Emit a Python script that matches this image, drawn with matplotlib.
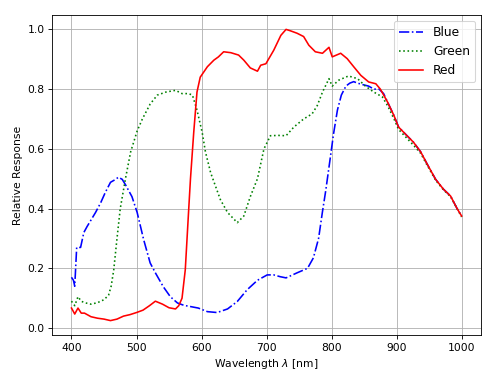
import numpy as np
import matplotlib
matplotlib.use('Agg')
import matplotlib.pyplot as plt

# Spectral response (wavelength in nm, relative response)
wl_blue = [400, 403, 405, 408, 414, 419, 424, 429, 437, 445, 452, 460, 468, 472, 478, 483,
           488, 493, 501, 511, 521, 529, 541, 552, 563, 573, 583, 595, 609, 624, 640, 655,
           670, 686, 701, 711, 721, 730, 747, 763, 772, 780, 786, 791, 798, 803, 809, 815,
           822, 828, 834, 840, 848, 857, 865, 873, 880, 886, 896, 903, 916, 926, 937, 947,
           960, 972, 983, 993, 1000]
blue = [0.17, 0.16, 0.14, 0.27, 0.27, 0.32, 0.34, 0.358, 0.387, 0.42, 0.454, 0.488, 0.498, 0.505,
        0.498, 0.48, 0.46, 0.44, 0.387, 0.296, 0.218, 0.185, 0.139, 0.105, 0.084, 0.076, 0.072,
        0.067, 0.055, 0.052, 0.064, 0.089, 0.128, 0.16, 0.178, 0.178, 0.172, 0.168, 0.185, 0.2,
        0.235, 0.30, 0.39, 0.46, 0.57, 0.65, 0.73, 0.78, 0.81, 0.82, 0.825, 0.82, 0.815, 0.81,
        0.80, 0.80, 0.785, 0.757, 0.711, 0.673, 0.644, 0.622, 0.59, 0.549, 0.498, 0.465, 0.442,
        0.40, 0.375]

wl_green = [400, 405, 410, 415, 420, 430, 440, 450, 457, 461, 465, 470, 475, 483, 491, 501,
            509, 521, 532, 545, 560, 570, 580, 586, 593, 601, 606, 614, 619, 629, 640, 655,
            665, 675, 686, 696, 706, 718, 730, 742, 757, 770, 778, 786, 796, 801, 811, 826,
            840, 852, 865, 878, 886, 896, 903, 916, 926, 937, 947, 960, 972, 983, 993, 1000]
green = [0.09, 0.075, 0.105, 0.09, 0.085, 0.08, 0.085, 0.095, 0.11, 0.14, 0.195, 0.30, 0.40,
         0.50, 0.59, 0.66, 0.70, 0.75, 0.78, 0.79, 0.796, 0.785, 0.785, 0.78, 0.73, 0.655, 0.59,
         0.52, 0.49, 0.43, 0.387, 0.353, 0.375, 0.44, 0.50, 0.60, 0.644, 0.645, 0.644, 0.673,
         0.70, 0.717, 0.745, 0.79, 0.835, 0.81, 0.83, 0.844, 0.835, 0.81, 0.79, 0.774, 0.745,
         0.70, 0.665, 0.635, 0.612, 0.585, 0.545, 0.495, 0.463, 0.44, 0.40, 0.372]

wl_red = [400, 405, 410, 415, 420, 430, 440, 450, 460, 470, 480, 490, 500, 510, 520, 529,
          540, 550, 560, 565, 570, 575, 580, 583, 588, 593, 598, 609, 619, 626, 634, 645,
          657, 665, 675, 686, 691, 699, 711, 722, 730, 737, 747, 757, 765, 775, 786, 796,
          801, 814, 824, 834, 845, 857, 868, 875, 886, 896, 903, 916, 926, 937, 947, 960,
          972, 983, 993, 1000]
red = [0.067, 0.047, 0.067, 0.05, 0.05, 0.038, 0.033, 0.03, 0.025, 0.03, 0.04, 0.045, 0.052,
       0.06, 0.075, 0.09, 0.08, 0.068, 0.064, 0.075, 0.10, 0.195, 0.387, 0.50, 0.655, 0.79,
       0.84, 0.875, 0.897, 0.908, 0.925, 0.922, 0.914, 0.897, 0.871, 0.86, 0.88, 0.885, 0.93,
       0.98, 1.0, 0.995, 0.987, 0.976, 0.947, 0.925, 0.92, 0.94, 0.908, 0.92, 0.902, 0.875,
       0.846, 0.824, 0.818, 0.80, 0.757, 0.711, 0.673, 0.644, 0.622, 0.59, 0.549, 0.498, 0.465,
       0.442, 0.40, 0.375]

fig = plt.figure(figsize=(495 / 77, 380 / 77), dpi=77)
ax = fig.add_axes([0.105, 0.118, 0.867, 0.843])

ax.plot(wl_blue, blue, 'b-.', label='Blue')
ax.plot(wl_green, green, color='green', linestyle=':', label='Green')
ax.plot(wl_red, red, 'r-', label='Red')

ax.set_xlabel(r'Wavelength $\lambda$ [nm]')
ax.set_ylabel('Relative Response')
ax.set_xticks([400, 500, 600, 700, 800, 900, 1000])
ax.set_yticks(np.arange(0, 1.01, 0.2))
ax.grid(True)
ax.legend(loc='upper right', fontsize=11.5)

plt.savefig('out.png', dpi=77)
